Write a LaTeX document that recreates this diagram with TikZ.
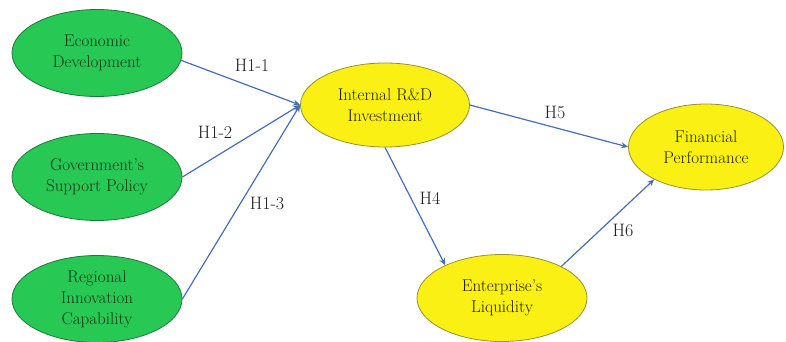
\documentclass[tikz,border=0pt]{standalone}
\usetikzlibrary{shapes.geometric}
\usetikzlibrary{arrows.meta}
\definecolor{grfill}{RGB}{40,200,85}
\definecolor{grline}{RGB}{30,120,60}
\definecolor{grtext}{RGB}{15,55,20}
\definecolor{yefill}{RGB}{250,240,20}
\definecolor{yeline}{RGB}{150,145,50}
\definecolor{yetext}{RGB}{35,35,10}
\definecolor{arrowblue}{RGB}{70,110,180}
\definecolor{labtext}{RGB}{30,30,30}
\tikzset{factor/.style={ellipse, draw=grline, fill=grfill, text=grtext, line width=0.8pt,
  minimum width=170pt, minimum height=87pt, inner sep=0pt, align=center,
  font=\fontsize{17}{21}\selectfont}}
\tikzset{outcome/.style={factor, draw=yeline, fill=yefill, text=yetext}}
\tikzset{path/.style={draw=arrowblue, line width=1.2pt, -{Stealth[length=7pt,width=6pt]}}}
\tikzset{hyp/.style={text=labtext, font=\fontsize{18}{21}\selectfont}}

\begin{document}
\begin{tikzpicture}[x=1pt, y=-1pt]
      \useasboundingbox (0,0) rectangle (786,342);

      \node [factor] (econ) at (97, 53) {Economic\\Development};
      \node [factor] (gov) at (97, 177) {Government's\\Support Policy};
      \node [factor] (reg) at (97, 299) {Regional\\Innovation\\Capability};

      \node [outcome, minimum width=169pt, minimum height=84pt] (rd) at (385, 105) {Internal R\&D\\Investment};
      \node [outcome] (liq) at (502, 298) {Enterprise's\\Liquidity};
      \node [outcome, minimum width=155pt, minimum height=86pt] (fin) at (706, 147) {Financial\\Performance};

      \draw [path] (econ.-5) -- (rd.west);
      \draw [path] (gov.east) -- (rd.west);
      \draw [path] (reg.east) -- (rd.west);
      \draw [path] (rd.east) -- (fin.west);
      \draw [path] (rd.south) -- (liq.150);
      \draw [path] (liq.28) -- (fin.212);

      \node [hyp] (h11) at (252, 65) {H1-1};
      \node [hyp] (h12) at (215, 132) {H1-2};
      \node [hyp] (h13) at (267, 203) {H1-3};
      \node [hyp] (h5) at (555, 112) {H5};
      \node [hyp] (h4) at (430, 198) {H4};
      \node [hyp] (h6) at (623, 230) {H6};

    \end{tikzpicture}
\end{document}
